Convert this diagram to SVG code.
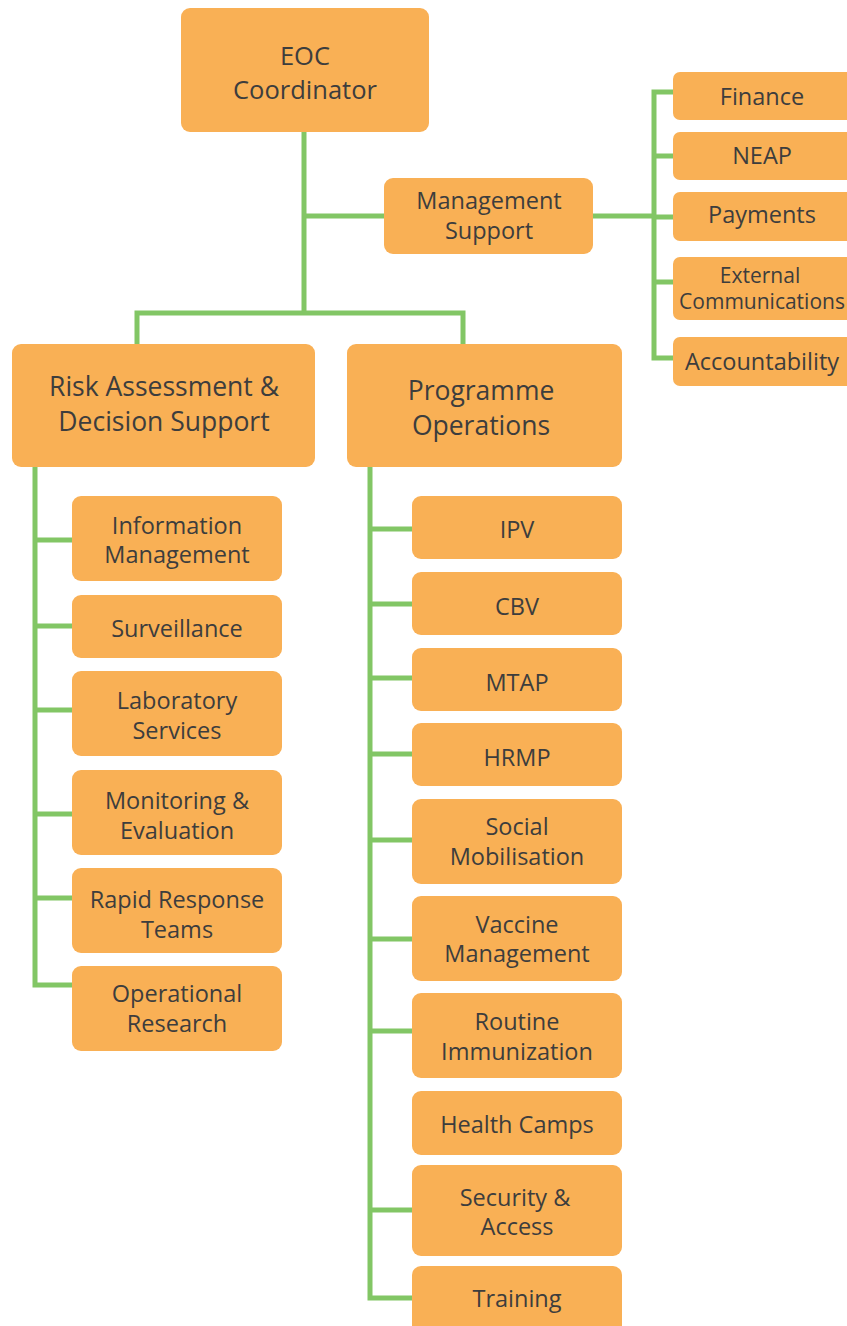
<svg xmlns="http://www.w3.org/2000/svg" width="847" height="1326" viewBox="0 0 847 1326">
<style>
.box{fill:#F9B055;}
.t{font-family:"Open Sans","Liberation Sans",sans-serif;fill:#3D3D3D;text-anchor:middle;font-size:23.5px;}
.big{font-size:26.5px;}
.eoc{font-size:25.5px;}
.sm{font-size:21px;}
.c{fill:none;stroke:#82C665;stroke-width:5;stroke-linejoin:miter;}
</style>
<rect width="847" height="1326" fill="#FFFFFF"/>
<g id="connectors">
<path class="c" d="M304,132 V313"/>
<path class="c" d="M304,216 H384"/>
<path class="c" d="M137,344 V313 H463 V344"/>
<path class="c" d="M593,216 H654"/>
<path class="c" d="M673,92 H654 V358 H673"/>
<path class="c" d="M654,156 H673 M654,217 H673 M654,282 H673"/>
<path class="c" d="M35,467 V985 H72"/>
<path class="c" d="M35,540 H72 M35,626 H72 M35,710 H72 M35,814 H72 M35,898 H72"/>
<path class="c" d="M370,467 V1298 H412"/>
<path class="c" d="M370,529 H412 M370,604 H412 M370,678 H412 M370,754 H412 M370,840 H412 M370,939 H412 M370,1031 H412 M370,1210 H412"/>
</g>
<g id="eoc"><rect class="box" x="181" y="8" width="248" height="124" rx="9"/><text class="t eoc" x="305" y="64.5">EOC</text><text class="t eoc" x="305" y="98.5">Coordinator</text></g>
<g id="mgmt"><rect class="box" x="384" y="178" width="209" height="76" rx="9"/><text class="t" x="489" y="208.5">Management</text><text class="t" x="489" y="238.5">Support</text></g>
<g id="finance"><rect class="box" x="673" y="72" width="184" height="48" rx="7"/><text class="t" x="762" y="104.5">Finance</text></g>
<g id="neap"><rect class="box" x="673" y="132" width="184" height="48" rx="7"/><text class="t" x="762" y="164">NEAP</text></g>
<g id="payments"><rect class="box" x="673" y="192" width="184" height="49" rx="7"/><text class="t" x="762" y="223">Payments</text></g>
<g id="extcomm"><rect class="box" x="673" y="257" width="184" height="63" rx="7"/><text class="t sm" x="760" y="282.5">External</text><text class="t sm" x="762" y="308.5">Communications</text></g>
<g id="accountability"><rect class="box" x="673" y="337" width="184" height="49" rx="7"/><text class="t" x="762" y="370">Accountability</text></g>
<g id="risk"><rect class="box" x="12" y="344" width="303" height="123" rx="9"/><text class="t big" x="164" y="395.5">Risk Assessment &amp;</text><text class="t big" x="164" y="430.5">Decision Support</text></g>
<g id="programme"><rect class="box" x="347" y="344" width="275" height="123" rx="9"/><text class="t big" x="481" y="400">Programme</text><text class="t big" x="481" y="435">Operations</text></g>
<g id="infomgmt"><rect class="box" x="72" y="496" width="210" height="85" rx="9"/><text class="t" x="177" y="533.5">Information</text><text class="t" x="177" y="562.5">Management</text></g>
<g id="surveillance"><rect class="box" x="72" y="595" width="210" height="63" rx="9"/><text class="t" x="177" y="636.5">Surveillance</text></g>
<g id="laboratory"><rect class="box" x="72" y="671" width="210" height="85" rx="9"/><text class="t" x="177" y="708.5">Laboratory</text><text class="t" x="177" y="738.5">Services</text></g>
<g id="monitoring"><rect class="box" x="72" y="770" width="210" height="85" rx="9"/><text class="t" x="177" y="808.5">Monitoring &amp;</text><text class="t" x="177" y="838.5">Evaluation</text></g>
<g id="rapid"><rect class="box" x="72" y="868" width="210" height="85" rx="9"/><text class="t" x="177" y="907.5">Rapid Response</text><text class="t" x="177" y="937.5">Teams</text></g>
<g id="opresearch"><rect class="box" x="72" y="966" width="210" height="85" rx="9"/><text class="t" x="177" y="1001.5">Operational</text><text class="t" x="177" y="1031.5">Research</text></g>
<g id="ipv"><rect class="box" x="412" y="496" width="210" height="63" rx="9"/><text class="t" x="517" y="537.5">IPV</text></g>
<g id="cbv"><rect class="box" x="412" y="572" width="210" height="63" rx="9"/><text class="t" x="517" y="614.5">CBV</text></g>
<g id="mtap"><rect class="box" x="412" y="648" width="210" height="63" rx="9"/><text class="t" x="517" y="690.5">MTAP</text></g>
<g id="hrmp"><rect class="box" x="412" y="723" width="210" height="63" rx="9"/><text class="t" x="517" y="765.5">HRMP</text></g>
<g id="social"><rect class="box" x="412" y="799" width="210" height="85" rx="9"/><text class="t" x="517" y="834.5">Social</text><text class="t" x="517" y="864.5">Mobilisation</text></g>
<g id="vaccine"><rect class="box" x="412" y="896" width="210" height="85" rx="9"/><text class="t" x="517" y="932.5">Vaccine</text><text class="t" x="517" y="961.5">Management</text></g>
<g id="routine"><rect class="box" x="412" y="993" width="210" height="85" rx="9"/><text class="t" x="517" y="1029.5">Routine</text><text class="t" x="517" y="1059.5">Immunization</text></g>
<g id="healthcamps"><rect class="box" x="412" y="1091" width="210" height="64" rx="9"/><text class="t" x="517" y="1132.5">Health Camps</text></g>
<g id="security"><rect class="box" x="412" y="1165" width="210" height="91" rx="9"/><text class="t" x="515" y="1205.5">Security &amp;</text><text class="t" x="517" y="1234.5">Access</text></g>
<g id="training"><rect class="box" x="412" y="1266" width="210" height="70" rx="9"/><text class="t" x="517" y="1306.5">Training</text></g>
</svg>
